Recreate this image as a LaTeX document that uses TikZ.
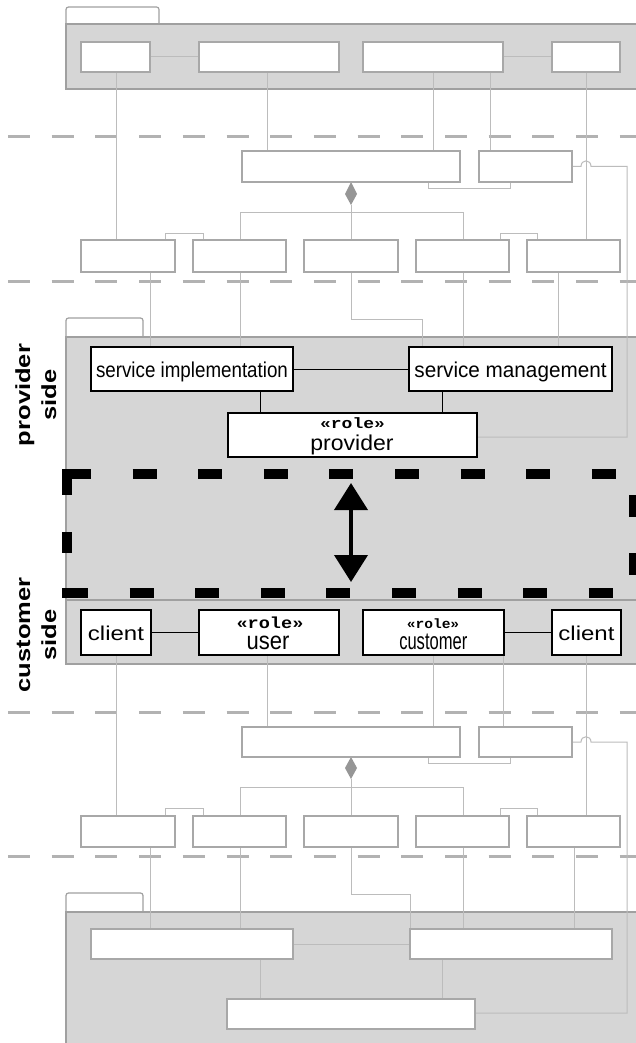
\documentclass[tikz,border=0pt]{standalone}
\usepackage{fontspec}
\setmainfont{Liberation Sans}
\setmonofont{Liberation Mono}
\usetikzlibrary{arrows.meta}

\definecolor{pkgfill}{RGB}{214,214,214}
\definecolor{pkgedge}{RGB}{160,160,160}
\definecolor{boxedge}{RGB}{168,168,168}
\definecolor{wiregray}{RGB}{188,188,188}
\definecolor{sepgray}{RGB}{178,178,178}
\definecolor{diamgray}{RGB}{150,150,150}

\pgfdeclarelayer{bg}
\pgfsetlayers{bg,main}

\tikzset{
  gbox/.style={draw=boxedge, fill=white, line width=1.2pt, inner sep=0pt, outer sep=0pt},
  kbox/.style={draw=black, fill=white, line width=1.5pt, inner sep=0pt, outer sep=0pt},
  wire/.style={draw=wiregray, line width=1pt},
  kwire/.style={draw=black, line width=1pt},
  sepline/.style={draw=sepgray, line width=3pt, dash pattern=on 22pt off 21.7pt},
  pkgbody/.style={fill=pkgfill, draw=pkgedge, line width=1.2pt},
  pkgtab/.style={draw=pkgedge, line width=1.2pt, rounded corners=2.5pt},
  txt/.style={inner sep=0pt, outer sep=0pt, anchor=base},
  ifcedge/.style={line width=10pt, draw=black},
  sidelabel/.style={rotate=90, inner sep=0pt, align=center,
    font=\fontsize{25.5}{32.5}\selectfont\bfseries},
}

% box: style, name, x1, y1, x2, y2
\newcommand\umlbox[6]{\node[#1, minimum width={#5-#3}, minimum height={#6-#4}]
  (#2) at ({(#3+#5)/2},{(#4+#6)/2}) {};}
% text: name, x, y (baseline), font, horizontal scale, text
\newcommand\boxtext[6]{\node[txt, font=#4] (#1) at (#2,#3) {\scalebox{#5}[1]{#6}};}
\newcommand\sansat[1]{\fontsize{#1}{#1}\selectfont}
\newcommand\roleat[1]{\fontsize{#1}{#1}\selectfont\ttfamily\bfseries}

\begin{document}
\begin{tikzpicture}[x=1pt,y=-1pt]
\useasboundingbox (0,0) rectangle (635,1043);

% ---------- upper layer boxes ----------
\umlbox{gbox}{a1}{81}{42}{150}{72}
\umlbox{gbox}{a2}{199}{42}{339}{72}
\umlbox{gbox}{a3}{363}{42}{503}{72}
\umlbox{gbox}{a4}{552}{42}{620}{72}
\umlbox{gbox}{b1}{242}{151}{460}{182}
\umlbox{gbox}{b2}{479}{151}{572}{182}
\umlbox{gbox}{c1}{81}{240}{175}{272}
\umlbox{gbox}{c2}{193}{240}{286}{272}
\umlbox{gbox}{c3}{304}{240}{398}{272}
\umlbox{gbox}{c4}{416}{240}{509}{272}
\umlbox{gbox}{c5}{527}{240}{620}{272}

% ---------- provider side ----------
\umlbox{kbox}{si}{91}{347}{293}{391}
\umlbox{kbox}{sm}{409}{347}{612}{391}
\umlbox{kbox}{prov}{228}{413}{477}{457}

% ---------- customer side ----------
\umlbox{kbox}{cl1}{81}{610}{151}{655}
\umlbox{kbox}{usr}{199}{610}{339}{655}
\umlbox{kbox}{cst}{363}{610}{504}{655}
\umlbox{kbox}{cl2}{552}{610}{621}{655}

% ---------- lower layer boxes ----------
\umlbox{gbox}{lb1}{242}{727}{460}{757}
\umlbox{gbox}{lb2}{479}{727}{572}{757}
\umlbox{gbox}{lc1}{81}{816}{175}{847}
\umlbox{gbox}{lc2}{193}{816}{286}{847}
\umlbox{gbox}{lc3}{304}{816}{398}{847}
\umlbox{gbox}{lc4}{416}{816}{509}{847}
\umlbox{gbox}{lc5}{527}{816}{620}{847}
\umlbox{gbox}{d1}{91}{929}{293}{959}
\umlbox{gbox}{d2}{410}{929}{612}{959}
\umlbox{gbox}{d3}{227}{999}{475}{1029}

\begin{pgfonlayer}{bg}
  \fill[white] (0,0) rectangle (635,1043);
  % packages
  \draw[pkgtab] (66,24) -- (66,7) -- (159,7) -- (159,24);
  \draw[pkgbody] (66,24) rectangle (660,89);
  \draw[pkgtab] (66,337) -- (66,318) -- (143,318) -- (143,337);
  \draw[pkgbody] (66,337) rectangle (660,600);
  \draw[pkgbody] (66,600) rectangle (660,664);
  \draw[pkgtab] (66,912) -- (66,893) -- (143,893) -- (143,912);
  \draw[pkgbody] (66,912) rectangle (660,1060);

  % layer separators
  \draw[sepline] (8,137) -- (640,137);
  \draw[sepline] (8,281) -- (640,281);
  \draw[sepline] (8,712) -- (640,712);
  \draw[sepline] (8,856) -- (640,856);

  % upper wiring
  \draw[wire] (a1.east) -- (a2.west);
  \draw[wire] (a3.east) -- (a4.west);
  \draw[wire] (a1.south -| 116,0) -- (c1.north -| 116,0);
  \draw[wire] (a2.south -| 267,0) -- (b1.north -| 267,0);
  \draw[wire] (a3.south -| 433,0) -- (b1.north -| 433,0);
  \draw[wire] (a3.south -| 490,0) -- (b2.north -| 490,0);
  \draw[wire] (a4.south -| 586,0) -- (c5.north -| 586,0);
  \draw[wire] (b1.south -| 428,0) -- (428,188) -- (510,188) -- (b2.south -| 510,0);
  \draw[wire] (b2.east) -- (b2.east -| 581,0)
      .. controls (581,159) and (591,159) .. (b2.east -| 591,0)
      -- (b2.east -| 627,0) |- (prov.east |- 0,437);
  \fill[diamgray] (b1.south) -- (357,194) -- (351,205) -- (345,194) -- cycle;
  \draw[wire] (351,205) -- (c3.north);
  \draw[wire] (c2.north -| 240,0) -- (240,212) -- (463,212) -- (c4.north -| 463,0);
  \draw[wire] (c1.north -| 165,0) -- (165,233) -- (203,233) -- (c2.north -| 203,0);
  \draw[wire] (c4.north -| 500,0) -- (500,233) -- (537,233) -- (c5.north -| 537,0);
  \draw[wire] (c1.south -| 150,0) -- (si.north -| 150,0);
  \draw[wire] (c2.south -| 240,0) -- (si.north -| 240,0);
  \draw[wire] (c3.south) -- (351,319) -| (sm.north -| 422,0);
  \draw[wire] (c4.south -| 463,0) -- (sm.north -| 463,0);
  \draw[wire] (c5.south -| 558,0) -- (sm.north -| 558,0);

  % provider side wiring
  \draw[kwire] (si.east) -- (sm.west);
  \draw[kwire] (si.south -| 260,0) -- (prov.north -| 260,0);
  \draw[kwire] (sm.south -| 442,0) -- (prov.north -| 442,0);

  % customer side wiring
  \draw[kwire] (cl1.east) -- (usr.west);
  \draw[kwire] (cst.east) -- (cl2.west);

  % lower wiring
  \draw[wire] (cl1.south -| 116,0) -- (lc1.north -| 116,0);
  \draw[wire] (usr.south -| 267,0) -- (lb1.north -| 267,0);
  \draw[wire] (cst.south -| 433,0) -- (lb1.north -| 433,0);
  \draw[wire] (cst.south -| 503,0) -- (lb2.north -| 503,0);
  \draw[wire] (cl2.south -| 586,0) -- (lc5.north -| 586,0);
  \draw[wire] (lb1.south -| 428,0) -- (428,763) -- (510,763) -- (lb2.south -| 510,0);
  \draw[wire] (lb2.east) -- (lb2.east -| 581,0)
      .. controls (581,735) and (591,735) .. (lb2.east -| 591,0)
      -- (lb2.east -| 627,0) |- (d3.east |- 0,1013);
  \fill[diamgray] (lb1.south) -- (357,768) -- (351,779) -- (345,768) -- cycle;
  \draw[wire] (351,779) -- (lc3.north);
  \draw[wire] (lc2.north -| 240,0) -- (240,787) -- (463,787) -- (lc4.north -| 463,0);
  \draw[wire] (lc1.north -| 165,0) -- (165,808) -- (203,808) -- (lc2.north -| 203,0);
  \draw[wire] (lc4.north -| 500,0) -- (500,808) -- (537,808) -- (lc5.north -| 537,0);
  \draw[wire] (lc1.south -| 150,0) -- (d1.north -| 150,0);
  \draw[wire] (lc2.south -| 240,0) -- (d1.north -| 240,0);
  \draw[wire] (lc3.south) -- (351,894) -| (d2.north west);
  \draw[wire] (lc4.south -| 463,0) -- (d2.north -| 463,0);
  \draw[wire] (lc5.south -| 574,0) -- (d2.north -| 574,0);
  \draw[wire] (d1.east) -- (d2.west);
  \draw[wire] (d1.south -| 260,0) -- (d3.north -| 260,0);
  \draw[wire] (d2.south -| 442,0) -- (d3.north -| 442,0);
\end{pgfonlayer}

% interface between the two sides
\draw[ifcedge, dash pattern=on 24pt off 41.6pt] (67,474) -- (640,474);
\draw[ifcedge, dash pattern=on 24pt off 41.6pt] (64,593) -- (640,593);
\draw[ifcedge, dash pattern=on 26pt off 37pt on 21pt off 35pt] (67,469) -- (67,598);
\draw[ifcedge, dash pattern=on 22pt off 36pt] (634,495) -- (634,575);
\coordinate (ifctop) at (351,483);
\coordinate (ifcbot) at (351,582);
\draw[line width=4pt, {Triangle[width=33pt,length=27pt]}-{Triangle[width=33pt,length=27pt]}]
  (ifctop) -- (ifcbot);

% labels
\boxtext{tsi}{192}{377}{\sansat{21.5}}{0.873}{service implementation}
\boxtext{tsm}{510.5}{377}{\sansat{21.5}}{0.963}{service management}
\boxtext{tprs}{352.5}{428}{\roleat{15}}{1.2}{«role»}
\boxtext{tpr}{352}{450}{\sansat{21.5}}{1.07}{provider}
\boxtext{tcl1}{116}{640}{\sansat{20}}{1.2}{client}
\boxtext{tuss}{270}{628}{\roleat{16}}{1.16}{«role»}
\boxtext{tus}{268}{649}{\sansat{25}}{0.88}{user}
\boxtext{tcus}{433}{628}{\roleat{13.5}}{1.08}{«role»}
\boxtext{tcu}{433.3}{649}{\sansat{24}}{0.69}{customer}
\boxtext{tcl2}{586.5}{640}{\sansat{20}}{1.2}{client}

\node[sidelabel] (provside) at (38,395)
  {\scalebox{1}[0.8]{\begin{tabular}{@{}c@{}}provider\\side\end{tabular}}};
\node[sidelabel] (custside) at (38,635)
  {\scalebox{1}[0.8]{\begin{tabular}{@{}c@{}}customer\\side\end{tabular}}};
\end{tikzpicture}
\end{document}
